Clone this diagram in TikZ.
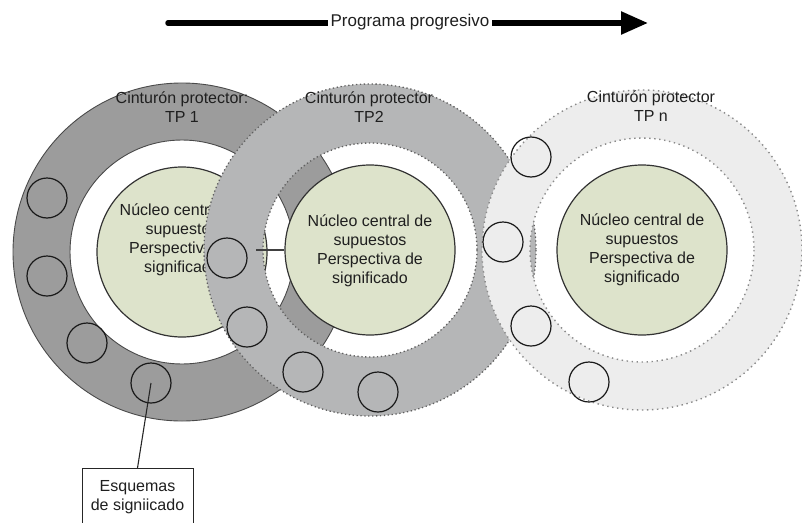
\documentclass[tikz,border=0pt]{standalone}
\usepackage{fontspec}
\setmainfont{Liberation Sans}
\usetikzlibrary{arrows.meta}
\definecolor{ringA}{HTML}{9C9C9C}
\definecolor{ringB}{HTML}{B5B6B7}
\definecolor{ringC}{HTML}{EDEDED}
\definecolor{corefill}{HTML}{DDE3CB}
\definecolor{txt}{HTML}{1F1F1F}
\definecolor{edgeA}{HTML}{4A4A4A}
\definecolor{edgeB}{HTML}{606060}
\definecolor{edgeC}{HTML}{8A8A8A}
\tikzset{
  txtfont/.style={font=\fontsize{16pt}{19pt}\selectfont, text=txt},
  core/.style={circle, draw=black!80, line width=1.2pt, fill=corefill, minimum size=170pt, inner sep=0pt},
  coretext/.style={txtfont, align=center, inner sep=0pt},
  schema/.style={circle, draw=black!90, line width=1.2pt, minimum size=40pt, inner sep=0pt},
  belt/.style={txtfont, align=center, inner sep=0pt},
  dotB/.style={draw=edgeB, line width=1.3pt, dash pattern=on 1.3pt off 2.6pt},
  dotC/.style={draw=edgeC, line width=1.4pt, dash pattern=on 1.4pt off 3.6pt},
  solA/.style={draw=edgeA, line width=0.9pt},
}
\begin{document}
\begin{tikzpicture}[x=1pt, y=-1pt]
\useasboundingbox (0,0) rectangle (802,522);
\clip (0,0) rectangle (802,522);
% ring centres
\coordinate (cA) at (182,252);
\coordinate (cB) at (370,250);
\coordinate (cC) at (642,250);
% TP 1 ring
\fill[ringA, even odd rule] (cA) circle (169) (cA) circle (112);
\draw[solA] (cA) circle (169);
\draw[solA] (cA) circle (112);
\node[core] (coreA) at (cA) {};
\node[coretext] (txtA) at (182,240) {Núcleo central de\\supuestos\\Perspectiva de\\significado};
% TP 2 ring
\fill[ringB, even odd rule] (cB) circle (166) (cB) circle (107);
\draw[dotB] (cB) circle (166);
\draw[dotB] (cB) circle (107);
\node[core] (coreB) at (cB) {};
\node[coretext] (txtB) at (370,251) {Núcleo central de\\supuestos\\Perspectiva de\\significado};
% TP n ring (over TP2, hole open)
\fill[ringC, even odd rule] (cC) circle (160) (cC) circle (112);
\draw[dotC] (cC) circle (160);
\draw[dotC] (cC) circle (112);
\node[core] (coreC) at (cC) {};
\node[coretext] (txtC) at (642,250) {Núcleo central de\\supuestos\\Perspectiva de\\significado};
% schema circles
\node[schema] (a1) at (47,198) {};
\node[schema] (a2) at (47,276) {};
\node[schema] (a3) at (87,343) {};
\node[schema] (a4) at (151,383) {};
\node[schema] (b1) at (227,258) {};
\node[schema] (b2) at (247,327) {};
\node[schema] (b3) at (303,372) {};
\node[schema] (b4) at (378,392) {};
\node[schema] (c1) at (531,157) {};
\node[schema] (c2) at (503,242) {};
\node[schema] (c3) at (531,326) {};
\node[schema] (c4) at (589,382) {};
% short link to TP2 core
\coordinate (lk) at (256,250);
\draw[black!75, line width=1.1pt] (lk) -- (coreB.west);
% belt labels
\node[belt] (lblA) at (182,107) {Cinturón protector:\\TP 1};
\node[belt] (lblB) at (369,107) {Cinturón protector\\TP2};
\node[belt] (lblC) at (651,106) {Cinturón protector\\TP n};
% schema box
\node[draw=black!85, line width=1pt, fill=white, anchor=north, minimum width=111pt, minimum height=58pt, txtfont, align=center, inner sep=0pt] (box) at (137.5,468) {Esquemas\\de signiicado};
\draw[black!85, line width=1.1pt] (a4.center) -- (box.north);
% progressive arrow
\coordinate (arS) at (168,23);
\coordinate (arE) at (648,23);
\draw[black, line width=5.5pt, line cap=round, -{Triangle[length=27pt,width=22pt]}] (arS) -- (arE);
\node[font=\fontsize{17pt}{20pt}\selectfont, text=txt, fill=white, inner xsep=3pt, inner ysep=1pt] (prog) at (410,22) {Programa progresivo};
\end{tikzpicture}
\end{document}
